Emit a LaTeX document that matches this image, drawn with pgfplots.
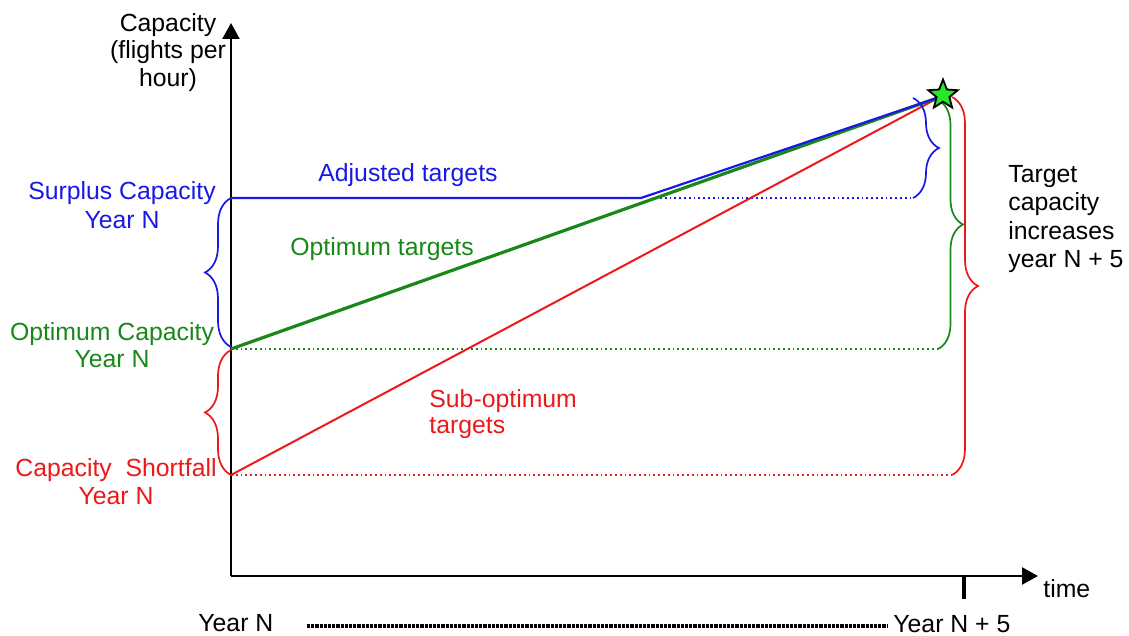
\documentclass[border=0pt]{standalone}
\usepackage{pgfplots}
\pgfplotsset{compat=1.18}
\usepackage{fontspec}
\setmainfont{Liberation Sans}
\usetikzlibrary{arrows.meta,decorations.pathreplacing,shapes.geometric}
\definecolor{cblue}{RGB}{25,25,230}
\definecolor{cgreen}{RGB}{25,135,25}
\definecolor{cred}{RGB}{235,25,25}
\definecolor{cstar}{RGB}{40,230,40}
\pgfdeclareplotmark{gstar}{\node[star,star points=5,star point ratio=2.3,draw=black,fill=cstar,line width=0.9pt,inner sep=0pt,minimum size=15.5pt]{};}
\begin{document}
\begin{tikzpicture}[every node/.style={inner sep=0pt,font=\fontsize{12.4}{14}\selectfont}]
\begin{axis}[scale only axis, width=403.5pt, height=276.5pt,
  xmin=231, xmax=1038, ymin=60, ymax=613,
  axis lines=left,
  axis line style={line width=1.3pt,-{Triangle[length=8pt,width=8.5pt]}},
  xtick=\empty, ytick=\empty, clip=false]
\path (axis cs:0,0) rectangle (axis cs:1129,636);
% dotted guide lines
\addplot[cblue, line width=0.9pt, dash pattern=on 0.9pt off 1.5pt] coordinates {(660,438) (913,438)};
\addplot[cgreen, line width=0.9pt, dash pattern=on 0.9pt off 1.5pt] coordinates {(231,287) (938,287)};
\addplot[cred, line width=0.9pt, dash pattern=on 0.9pt off 1.5pt] coordinates {(231,161) (952,161)};
% target lines
\addplot[cred, line width=1pt] coordinates {(231,161) (940,539)};
\addplot[cgreen, line width=1.6pt] coordinates {(231,287) (940,539)};
\addplot[cblue, line width=1.1pt] coordinates {(231,438) (641,438) (940,539)};
% braces
\draw[cblue, line width=0.85pt, decorate, decoration={brace, amplitude=13pt}] (axis cs:231,289) -- (axis cs:231,438);
\draw[cred, line width=0.85pt, decorate, decoration={brace, amplitude=13pt}] (axis cs:231,161) -- (axis cs:231,286);
\draw[cblue, line width=0.85pt, decorate, decoration={brace, amplitude=13pt}] (axis cs:913,538) -- (axis cs:913,438);
\draw[cgreen, line width=0.85pt, decorate, decoration={brace, amplitude=12.5pt}] (axis cs:938,536) -- (axis cs:938,287);
\draw[cred, line width=0.85pt, decorate, decoration={brace, amplitude=13pt}] (axis cs:952,539) -- (axis cs:952,161);
% star
\addplot[only marks, mark=gstar] coordinates {(943,541)};
% tick and bottom timeline
\draw[line width=2pt] (axis cs:964,60) -- (axis cs:964,37);
\draw[line width=1.6pt, dash pattern=on 1.6pt off 0.5pt] (axis cs:307,10) -- (axis cs:887,10);
% texts
\node[anchor=base] at (axis cs:168,604) {Capacity};
\node[anchor=base] at (axis cs:168,577) {(flights per};
\node[anchor=base] at (axis cs:168,549) {hour)};
\node[anchor=base, text=cblue] at (axis cs:122,436) {Surplus Capacity};
\node[anchor=base, text=cblue] at (axis cs:122,407) {Year N};
\node[anchor=base, text=cgreen] at (axis cs:112,295) {Optimum Capacity};
\node[anchor=base, text=cgreen] at (axis cs:112,268) {Year N};
\node[anchor=base, text=cred] at (axis cs:116,159) {Capacity\ \ Shortfall};
\node[anchor=base, text=cred] at (axis cs:116,131) {Year N};
\node[anchor=base west, text=cblue] at (axis cs:318,454) {Adjusted targets};
\node[anchor=base west, text=cgreen] at (axis cs:290,380) {Optimum targets};
\node[anchor=base west, text=cred] at (axis cs:429,228) {Sub-optimum};
\node[anchor=base west, text=cred] at (axis cs:429,202) {targets};
\node[anchor=base west] at (axis cs:1008,453) {Target};
\node[anchor=base west] at (axis cs:1008,425) {capacity};
\node[anchor=base west] at (axis cs:1008,396) {increases};
\node[anchor=base west] at (axis cs:1008,368) {year N + 5};
\node[anchor=base west] at (axis cs:1043,38) {time};
\node[anchor=base west] at (axis cs:198,4) {Year N};
\node[anchor=base west] at (axis cs:893,3) {Year N + 5};
\end{axis}
\end{tikzpicture}
\end{document}
